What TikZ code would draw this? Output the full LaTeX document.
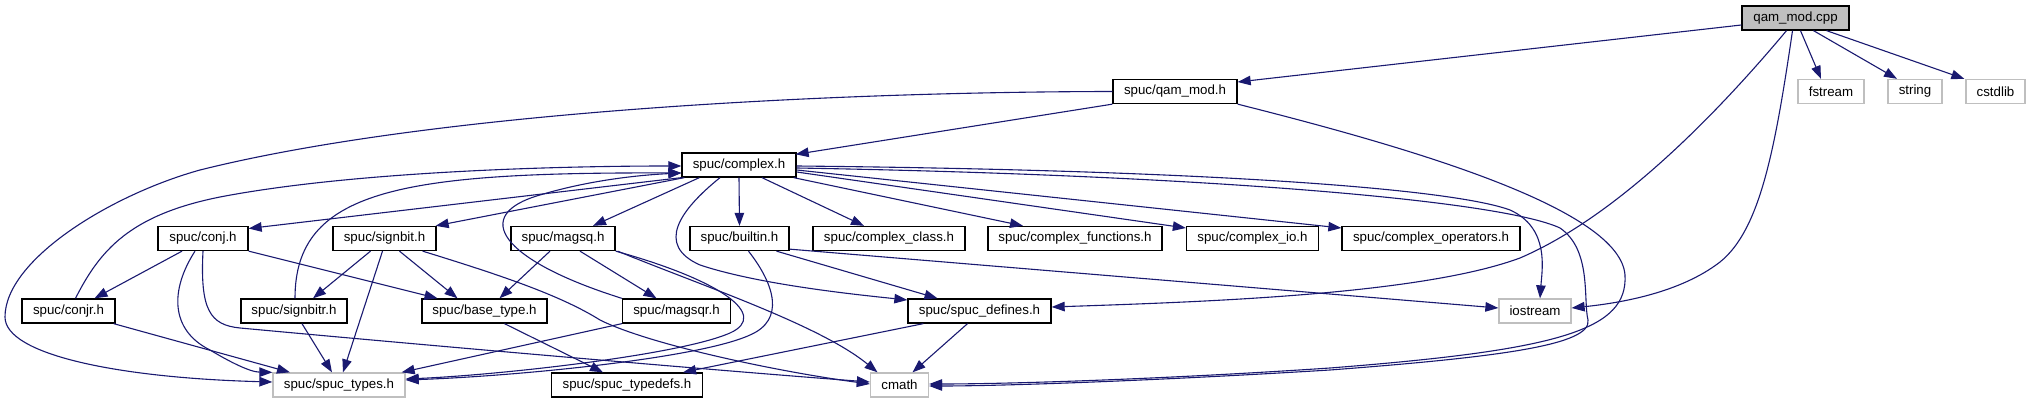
\documentclass[tikz,border=0pt]{standalone}
\usepackage{fontspec}
\setmainfont{Liberation Sans}
\usetikzlibrary{arrows.meta,calc}
\definecolor{edgeblue}{RGB}{25,25,112}
\definecolor{lgray}{RGB}{191,191,191}
\begin{document}
\begin{tikzpicture}[x=1pt,y=-1pt,
 box/.style={draw=black,line width=1.3pt,minimum height=24pt,inner sep=0pt,font=\fontsize{13.3}{16}\selectfont},
 ext/.style={box,draw=lgray},
 edge/.style={draw=edgeblue,line width=1.1pt,-{Triangle[length=13pt,width=9.5pt]}}]
\useasboundingbox (0,0) rectangle (2030,403);
% nodes
\node[box,fill=lgray,minimum width=107pt] (cpp) at (1795.5,18) {qam\_mod.cpp};
\node[ext,minimum width=66pt] (fstream) at (1831,91.5) {fstream};
\node[ext,minimum width=54pt] (string) at (1915,91.5) {string};
\node[ext,minimum width=59pt] (cstdlib) at (1995.5,91.5) {cstdlib};
\node[box,minimum width=124pt] (qammodh) at (1175,91.5) {spuc/qam\_mod.h};
\node[box,minimum width=114pt] (complex) at (739,165) {spuc/complex.h};
\node[box,minimum width=90pt] (conj) at (203,238.5) {spuc/conj.h};
\node[box,minimum width=103pt] (signbit) at (384.5,238.5) {spuc/signbit.h};
\node[box,minimum width=104pt] (magsq) at (563,238.5) {spuc/magsq.h};
\node[box,minimum width=99pt] (builtin) at (739.5,238.5) {spuc/builtin.h};
\node[box,minimum width=152pt] (cclass) at (889,238.5) {spuc/complex\_class.h};
\node[box,minimum width=174pt] (cfunc) at (1075,238.5) {spuc/complex\_functions.h};
\node[box,minimum width=132pt] (cio) at (1252.5,238.5) {spuc/complex\_io.h};
\node[box,minimum width=178pt] (cops) at (1431,238.5) {spuc/complex\_operators.h};
\node[box,minimum width=93pt] (conjr) at (68.5,311) {spuc/conjr.h};
\node[box,minimum width=106pt] (signbitr) at (294,311) {spuc/signbitr.h};
\node[box,minimum width=125pt] (basetype) at (484.5,311) {spuc/base\_type.h};
\node[box,minimum width=108pt] (magsqr) at (676.5,311) {spuc/magsqr.h};
\node[box,minimum width=143pt] (defines) at (979.5,311) {spuc/spuc\_defines.h};
\node[ext,minimum width=72pt] (iostream) at (1535,311) {iostream};
\node[ext,minimum width=132pt] (types) at (339,385) {spuc/spuc\_types.h};
\node[box,minimum width=151pt] (typedefs) at (627,385) {spuc/spuc\_typedefs.h};
\node[ext,minimum width=58pt] (cmath) at (899.5,385) {cmath};
% edges from qam_mod.cpp
\draw[edge] ([yshift=-7pt]cpp.west) -- ([yshift=9.5pt]qammodh.east);
\draw[edge] ([xshift=5pt]cpp.south) -- ([xshift=-10pt]fstream.north);
\draw[edge] ([xshift=18pt]cpp.south) -- ([xshift=-18pt]string.north);
\draw[edge] ([xshift=31pt]cpp.south) -- ([xshift=-1pt]cstdlib.north west);
\draw[edge] ([xshift=-9pt]cpp.south) .. controls (1720,110) and (1620,215) .. (1520,258) .. controls (1420,295) and (1200,302) .. ([yshift=4pt]defines.east);
\draw[edge] ([xshift=-3pt]cpp.south) .. controls (1775,150) and (1760,230) .. (1720,262) .. controls (1680,293) and (1620,303) .. ([yshift=3pt]iostream.east);
% edges from qam_mod.h
\draw[edge] (qammodh.south west) -- ([xshift=-1pt,yshift=-2pt]complex.north east);
\draw[edge] (qammodh.west) .. controls (800,92) and (420,115) .. (200,170) .. controls (110,195) and (5,260) .. (5,317) .. controls (5,355) and (120,378) .. ([yshift=3pt]types.west);
\draw[edge] (qammodh.south east) .. controls (1420,150) and (1620,210) .. (1625,275) .. controls (1628,330) and (1560,350) .. (1330,368) .. controls (1150,380) and (1000,384) .. ([yshift=1pt]cmath.east);
% edges from complex.h
\draw[edge] ([yshift=-1pt]complex.east) .. controls (1200,170) and (1450,188) .. (1510,210) .. controls (1550,228) and (1542,270) .. ([xshift=5pt]iostream.north);
\draw[edge] ([yshift=-3pt]complex.east) .. controls (1200,175) and (1500,200) .. (1560,228) .. controls (1592,250) and (1583,300) .. (1588,320) .. controls (1592,345) and (1500,357) .. (1330,370) .. controls (1150,381) and (1000,386) .. ([yshift=-1pt]cmath.east);
\draw[edge] (complex.south west) -- ([yshift=10pt]conj.east);
\draw[edge] ([xshift=3pt]complex.south west) -- ([xshift=-1pt]signbit.north east);
\draw[edge] ([xshift=18pt]complex.south west) -- ([xshift=30pt]magsq.north);
\draw[edge] (complex.south) -- (builtin.north);
\draw[edge] ([xshift=23pt]complex.south) -- ([xshift=-25pt]cclass.north);
\draw[edge] ([xshift=-3pt]complex.south east) -- ([xshift=-52pt]cfunc.north);
\draw[edge] ([yshift=-7pt]complex.east) -- ([yshift=10.5pt]cio.west);
\draw[edge] ([yshift=-5pt]complex.east) -- ([yshift=10.5pt]cops.west);
\draw[edge] ([xshift=-19pt]complex.south) .. controls (680,210) and (655,245) .. (700,265) .. controls (760,285) and (860,295) .. ([yshift=11pt]defines.west);
% back edges to complex.h
\draw[edge] ([xshift=7pt]conjr.north) .. controls (100,250) and (130,215) .. (220,197) .. controls (350,172) and (550,166) .. ([yshift=-1pt]complex.west);
\draw[edge] ([xshift=1pt]signbitr.north) .. controls (295,190) and (400,172) .. ([yshift=-8pt]complex.west);
\draw[edge] (magsqr.north west) .. controls (500,260) and (470,215) .. (540,195) .. controls (590,180) and (640,175) .. ([yshift=-8pt]complex.west);
% conj.h
\draw[edge] ([xshift=-21pt]conj.south) -- ([xshift=26pt]conjr.north);
\draw[edge] ([xshift=-8pt]conj.south) .. controls (170,290) and (170,330) .. (210,350) .. controls (230,362) and (250,372) .. (types.north west);
\draw[edge] (conj.south east) -- ([xshift=-47pt]basetype.north);
\draw[edge] (conj.south) .. controls (200,310) and (210,325) .. (240,328) .. controls (500,352) and (750,373) .. ([yshift=3pt]cmath.west);
% conjr.h
\draw[edge] ([xshift=-2pt]conjr.south east) -- ([xshift=-49pt]types.north);
% signbit.h
\draw[edge] ([xshift=-14pt]signbit.south) -- ([xshift=19pt]signbitr.north);
\draw[edge] ([xshift=-2pt]signbit.south) -- ([xshift=4pt]types.north);
\draw[edge] ([xshift=15pt]signbit.south) -- ([xshift=-27pt]basetype.north);
\draw[edge] ([xshift=-14pt]signbit.south east) .. controls (500,275) and (560,295) .. (600,320) .. controls (650,345) and (780,372) .. ([yshift=1pt]cmath.west);
% signbitr.h
\draw[edge] ([xshift=8pt]signbitr.south) -- ([xshift=-7pt]types.north);
% magsq.h
\draw[edge] ([xshift=-13pt]magsq.south) -- ([xshift=15pt]basetype.north);
\draw[edge] ([xshift=17pt]magsq.south) -- ([xshift=-20pt]magsqr.north);
\draw[edge] (magsq.south east) .. controls (720,280) and (770,315) .. (730,333) .. controls (680,355) and (500,375) .. ([yshift=6pt]types.east);
\draw[edge] ([xshift=2pt]magsq.south east) .. controls (700,285) and (820,325) .. ([xshift=-22pt]cmath.north);
% builtin.h
\draw[edge] ([xshift=9pt]builtin.south) .. controls (775,285) and (785,320) .. (750,335) .. controls (700,358) and (520,376) .. ([yshift=5pt]types.east);
\draw[edge] ([xshift=37pt]builtin.south) -- ([xshift=-42pt]defines.north);
\draw[edge] ([yshift=2pt]builtin.south east) -- ([yshift=3pt]iostream.west);
% magsqr.h
\draw[edge] (magsqr.south west) -- ([xshift=-4pt]types.north east);
% base_type.h
\draw[edge] ([xshift=20pt]basetype.south) -- ([xshift=-24pt]typedefs.north);
% spuc_defines.h
\draw[edge] ([xshift=16pt]defines.south west) -- ([xshift=56pt]typedefs.north);
\draw[edge] ([xshift=-12pt]defines.south) -- ([xshift=13pt]cmath.north);
\end{tikzpicture}
\end{document}
